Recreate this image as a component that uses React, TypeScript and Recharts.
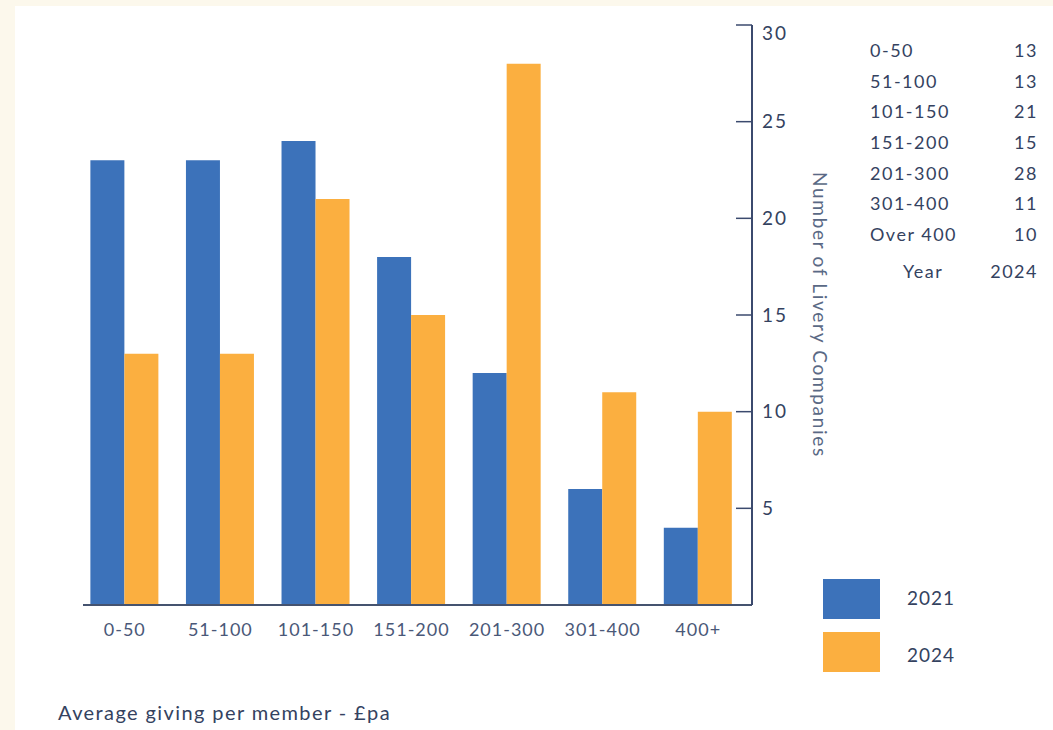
import React from "react";
import { BarChart, Bar, XAxis, YAxis, Legend } from "recharts";

const categories = ["0-50", "51-100", "101-150", "151-200", "201-300", "301-400", "400+"];
const series2021 = [23, 23, 24, 18, 12, 6, 4];
const series2024 = [13, 13, 21, 15, 28, 11, 10];
const yTicks = [5, 10, 15, 20, 25, 30];
const tableLabels = ["0-50", "51-100", "101-150", "151-200", "201-300", "301-400", "Over 400"];
const tableYear = "2024";

const data = categories.map((c, i) => ({ name: c, y2021: series2021[i], y2024: series2024[i] }));

const FONT = "Lato, 'Open Sans', sans-serif";
const INK = "#34425f";
const BLUE = "#3c72ba";
const ORANGE = "#fbaf40";

function YTick({ x, y, payload }: any) {
  // top label sits a little below its tick in the original
  const shift = payload.value === 30 ? 8 : 0;
  return (
    <g>
      <line x1={x - 16} x2={x} y1={y} y2={y} stroke="#3b4a6e" strokeWidth={1.5} />
      <text x={x + 10} y={y + shift} dy="0.35em" fill={INK} fontSize={19} fontFamily={FONT} letterSpacing={2}>
        {payload.value}
      </text>
    </g>
  );
}

function LegendBox() {
  const items = [
    { label: "2021", color: BLUE, nudge: -2 },
    { label: "2024", color: ORANGE, nudge: 2 },
  ];
  return (
    <div style={{ fontFamily: FONT }}>
      {items.map((it) => (
        <div key={it.label} style={{ display: "flex", alignItems: "center", height: 40, marginBottom: 13 }}>
          <div style={{ width: 57, height: 40, background: it.color }} />
          <span style={{ marginLeft: 27, fontSize: 19, color: INK, letterSpacing: 1, position: "relative", top: it.nudge }}>
            {it.label}
          </span>
        </div>
      ))}
    </div>
  );
}

export default function App() {
  return (
    <div style={{ position: "absolute", left: 0, top: 0, width: 1053, height: 730, background: "#fcf8ec", overflow: "hidden" }}>
      <div style={{ position: "absolute", left: 15, top: 6, width: 1038, height: 724, background: "#ffffff" }} />
      <div style={{ position: "absolute", left: 0, top: 0 }}>
        <BarChart
          width={1053}
          height={730}
          data={data}
          margin={{ top: 25, right: 165, bottom: 85, left: 83 }}
          barCategoryGap="14%"
          barGap={0}
        >
          <XAxis
            dataKey="name"
            height={40}
            padding={{ left: -6, right: 6 }}
            axisLine={{ stroke: "#45536f", strokeWidth: 2 }}
            tickLine={false}
            tickMargin={12}
            tick={{ fill: "#4a5878", fontSize: 18, fontFamily: FONT, letterSpacing: 1 }}
            label={{
              content: ({ viewBox }: any) => (
                <text x={viewBox.x - 25} y={viewBox.y + 108} dy="0.35em" fill={INK} fontSize={20} fontFamily={FONT} letterSpacing={1.4}>
                  Average giving per member - £pa
                </text>
              ),
            }}
          />
          <YAxis
            orientation="right"
            width={136}
            domain={[0, 30]}
            ticks={yTicks}
            interval={0}
            axisLine={{ stroke: "#3b4a6e", strokeWidth: 2 }}
            tickLine={false}
            tickSize={0}
            tickMargin={0}
            tick={<YTick />}
            label={{
              content: ({ viewBox }: any) => {
                const cx = viewBox.x + viewBox.width / 2;
                const cy = viewBox.y + viewBox.height / 2;
                return (
                  <text
                    x={cx}
                    y={cy}
                    transform={`rotate(90 ${cx} ${cy})`}
                    textAnchor="middle"
                    dy="0.35em"
                    fill="#5a6985"
                    fontSize={19}
                    fontFamily={FONT}
                    letterSpacing={1.7}
                  >
                    Number of Livery Companies
                  </text>
                );
              },
            }}
          />
          <Bar dataKey="y2021" fill={BLUE} isAnimationActive={false} />
          <Bar dataKey="y2024" fill={ORANGE} isAnimationActive={false} />
          <Legend
            layout="vertical"
            align="center"
            verticalAlign="middle"
            content={<LegendBox />}
            wrapperStyle={{ left: 823, top: 579, width: 200 }}
          />
        </BarChart>
      </div>
      <div style={{ position: "absolute", left: 870, top: 35, width: 168, fontFamily: FONT, fontSize: 18, color: INK, letterSpacing: 1.5 }}>
        {tableLabels.map((l, i) => (
          <div key={l} style={{ display: "flex", justifyContent: "space-between", height: 30.7, lineHeight: "30px" }}>
            <span>{l}</span>
            <span>{series2024[i]}</span>
          </div>
        ))}
        <div style={{ display: "flex", justifyContent: "space-between", marginTop: 6, lineHeight: "30px" }}>
          <span style={{ marginLeft: 33 }}>Year</span>
          <span>{tableYear}</span>
        </div>
      </div>
    </div>
  );
}
